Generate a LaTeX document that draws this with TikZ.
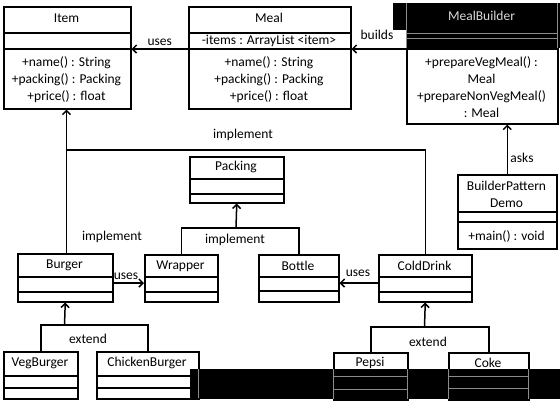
\documentclass[tikz,border=0pt]{standalone}
\usepackage{fontspec}
\setmainfont{Carlito}
\usetikzlibrary{arrows.meta,calc}
\newcommand\classbox[7]{%
  \node[cls, minimum width={#4-#2}, minimum height={#5-#3}, anchor=north west] (#1) at (#2,#3) {};
  \draw[ln] (#2,#6) -- (#4,#6);
  \draw[ln] (#2,#7) -- (#4,#7);}
\begin{document}
\begin{tikzpicture}[x=1pt,y=-1pt,
  ln/.style={line width=1.5pt},
  cls/.style={draw, line width=1.5pt, inner sep=0pt, rectangle},
  txt/.style={inner sep=0pt, font=\fontsize{13.5}{17}\selectfont, align=center},
  arr/.style={line width=1.5pt, -{Straight Barb[length=4pt,width=8pt]}},
  band/.style={fill=black, draw=none},
  ghost/.style={draw=black!45, line width=0.8pt}]
\useasboundingbox[fill=white] (0,0) rectangle (560,408);
% classes
\classbox{item}{3}{6}{130}{108}{33}{49}
\classbox{meal}{188}{6}{350}{108}{33}{49}
\classbox{mb}{406}{5}{557}{123}{33}{49}
\classbox{bpd}{457}{174}{556}{248}{212}{222}
\classbox{packing}{189}{156}{283}{202}{179}{194}
\classbox{burger}{17}{253}{112}{301}{277}{292}
\classbox{wrapper}{144}{254}{217}{301}{277}{292}
\classbox{bottle}{258}{254}{338}{301}{277}{291}
\classbox{colddrink}{378}{254}{471}{301}{277}{292}
\classbox{vegburger}{3}{351}{77}{398}{376}{388}
\classbox{chickenburger}{96}{351}{198}{398}{376}{388}
\classbox{pepsi}{333}{352}{407}{399}{376}{389}
\classbox{coke}{448}{352}{528}{399}{376}{388}
% texts
\node[txt] (item-t) at (66.5,18) {Item};
\node[txt] (item-m) at (66.5,80) {+name() : String\\+packing() : Packing\\+price() : float};
\node[txt] (meal-t) at (269,18) {Meal};
\node[txt] (meal-a) at (269,41) {-items : ArrayList <item>};
\node[txt] (meal-m) at (269,80) {+name() : String\\+packing() : Packing\\+price() : float};
\node[txt] (mb-m) at (481.5,87) {+prepareVegMeal() :\\Meal\\+prepareNonVegMeal()\\: Meal};
\node[txt] (bpd-t) at (506.5,194) {BuilderPattern\\Demo};
\node[txt] (bpd-m) at (506.5,236) {+main() : void};
\node[txt] (packing-t) at (236,167) {Packing};
\node[txt] (burger-t) at (64.5,265) {Burger};
\node[txt] (wrapper-t) at (180.5,266) {Wrapper};
\node[txt] (bottle-t) at (298,266) {Bottle};
\node[txt] (colddrink-t) at (424.5,266) {ColdDrink};
\node[txt] (vegburger-t) at (40,363) {VegBurger};
\node[txt] (chickenburger-t) at (147,363) {ChickenBurger};
\node[txt] (pepsi-t) at (370,363) {Pepsi};
\node[txt] (coke-t) at (488,363) {Coke};
% coordinates
\coordinate (y49) at (0,49);
\coordinate (y283) at (0,283);
\coordinate (imp) at (66.5,150);
\coordinate (pk) at (236,228);
\coordinate (ex1) at (64.5,325);
\coordinate (ex2) at (424.5,327);
% connectors
\draw[arr] (meal.west |- y49) -- (item.east |- y49) node[txt, midway, above=3pt] (l-uses1) {uses};
\draw[arr] (mb.west |- y49) -- (meal.east |- y49);
\node[txt] (l-builds) at (377,35) {builds};
\draw[arr] (burger.north -| imp) -- (item.south -| imp);
\draw[ln] (colddrink.north) |- (imp);
\node[txt] (l-imp1) at (243,135) {implement};
\node[txt] (l-imp2) at (112,237) {implement};
\draw[ln] (wrapper.north) |- (pk) -| (bottle.north);
\draw[arr] (pk) -- (packing.south);
\node[txt] (l-imp3) at (235,240) {implement};
\draw[arr] (burger.east |- y283) -- (wrapper.west |- y283);
\node[txt] (l-uses2) at (126,276) {uses};
\draw[arr] (colddrink.west |- y283) -- (bottle.east |- y283);
\node[txt] (l-uses3) at (358,273) {uses};
\draw[arr] (bpd.north) -- (bpd.north |- mb.south);
\node[txt] (l-asks) at (522,158) {asks};
\draw[ln] (vegburger.north) |- (ex1) -| (chickenburger.north);
\draw[arr] (ex1) -- (burger.south);
\node[txt] (l-ext1) at (88,339) {extend};
\draw[ln] (pepsi.north) |- (ex2) -| (coke.north);
\draw[arr] (ex2) -- (colddrink.south);
\node[txt] (l-ext2) at (428,342) {extend};
% black artefact areas
\path[band] (393,3) rectangle (560,30);
\path[band] (406,3) rectangle (560,47.5);
\draw[ghost] (406,3) -- (406,47.5) (557,3) -- (557,47.5) (406,33) -- (557,33) (406,38) -- (557,38);
\node[txt, text=black!15] (mb-t) at (481.5,16) {MealBuilder};
\path[band] (190,369) rectangle (560,399);
\draw[ghost] (333,369) -- (333,399) (407,369) -- (407,399) (333,376) -- (407,376) (333,389) -- (407,389);
\draw[ghost] (448,369) -- (448,399) (528,369) -- (528,399) (448,376) -- (528,376) (448,388) -- (528,388);
\draw[ghost] (198,369) -- (198,398);
\end{tikzpicture}
\end{document}
